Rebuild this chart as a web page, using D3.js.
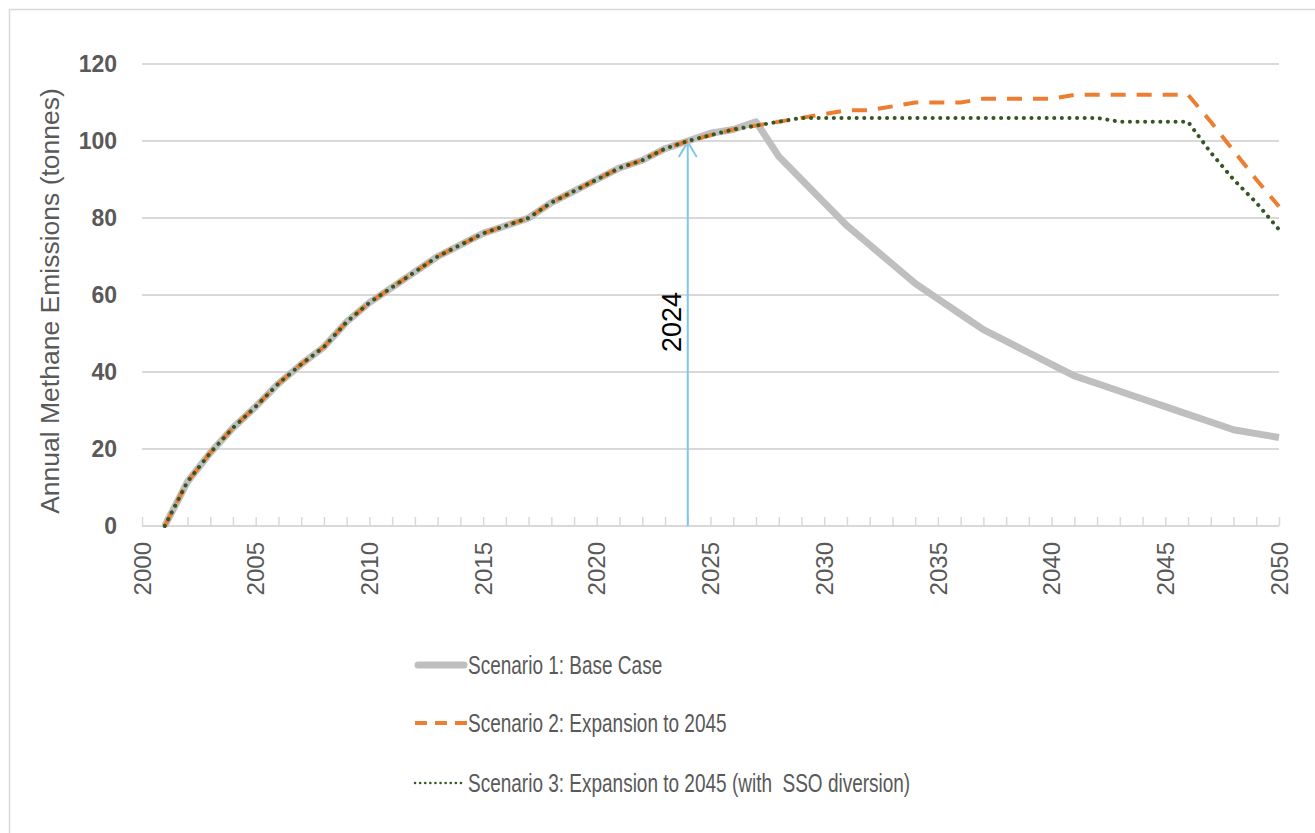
<!DOCTYPE html>
<html>
<head>
<meta charset="utf-8">
<script src="https://cdnjs.cloudflare.com/ajax/libs/d3/7.8.5/d3.min.js"></script>
<style>
  html, body { margin: 0; padding: 0; background: #fff; }
  svg text { font-family: "Liberation Sans", Arial, sans-serif; fill: #595959; }
</style>
</head>
<body>
<div id="chart"></div>
<script>
/*
  annual methane emissions by scenario
*/

// years on the x axis, 2001 - 2050
var years = d3.range(2001, 2051);

// Scenario 1: base case
var baseCase = [
  0, 11.5, 19, 25.5, 31, 37, 42, 46.5, 53, 58,
  62, 66, 70, 73, 76, 78, 80, 84, 87, 90,
  93, 95, 98, 100, 102, 103, 105, 96, 90, 84,
  78, 73, 68, 63, 59, 55, 51, 48, 45, 42,
  39, 37, 35, 33, 31, 29, 27, 25, 24, 23
];

// Scenario 2: expansion to 2045
var expansion = [
  0, 11.5, 19, 25.5, 31, 37, 42, 46.5, 53, 58,
  62, 66, 70, 73, 76, 78, 80, 84, 87, 90,
  93, 95, 98, 100, 101.5, 103, 104, 105, 106, 107,
  108, 108, 109, 110, 110, 110, 111, 111, 111, 111,
  112, 112, 112, 112, 112, 112, 105, 97.5, 90, 83
];

// Scenario 3: expansion to 2045 with SSO diversion
var expansionSSO = [
  0, 11.5, 19, 25.5, 31, 37, 42, 46.5, 53, 58,
  62, 66, 70, 73, 76, 78, 80, 84, 87, 90,
  93, 95, 98, 100, 101.5, 103, 104, 105, 106, 106,
  106, 106, 106, 106, 106, 106, 106, 106, 106, 106,
  106, 106, 105, 105, 105, 105, 97, 90, 84, 77
];

var xTicks = d3.range(2000, 2051, 5);
var yTicks = [0, 20, 40, 60, 80, 100, 120];

var seriesNames = [
  "Scenario 1: Base Case",
  "Scenario 2: Expansion to 2045",
  "Scenario 3: Expansion to 2045 (with  SSO diversion)"
];

var markerYear = 2024;

var width = 1315, height = 833;

var svg = d3.select("#chart").append("svg")
  .attr("width", width)
  .attr("height", height);

// outer frame
svg.append("rect")
  .attr("x", 9.5).attr("y", 9.5)
  .attr("width", width + 20).attr("height", height + 20)
  .style("fill", "none")
  .style("stroke", "#d9d9d9")
  .style("stroke-width", 1.5);

var x = d3.scaleLinear().domain([2000, 2050]).range([142, 1279]);
var y = d3.scaleLinear().domain([0, 120]).range([526, 64]);

// horizontal gridlines
svg.append("g").selectAll("line")
  .data(yTicks.filter(function(d) { return d > 0; }))
  .enter().append("line")
    .attr("x1", x(2000)).attr("x2", x(2050))
    .attr("y1", function(d) { return y(d); })
    .attr("y2", function(d) { return y(d); })
    .style("stroke", "#d9d9d9")
    .style("stroke-width", 2);

// y axis labels
var yAxis = svg.append("g")
  .attr("transform", "translate(" + x(2000) + ",0)")
  .call(d3.axisLeft(y).tickValues(yTicks).tickSize(0).tickPadding(25));
yAxis.select(".domain").remove();
yAxis.selectAll("text")
  .style("font-size", "23px")
  .style("font-weight", "bold")
  .style("font-family", "'Liberation Sans', Arial, sans-serif")
  .style("fill", "#595959");

// x axis: a tick every year pointing up, labels every 5 years
var xAxis = svg.append("g")
  .attr("transform", "translate(0," + y(0) + ")")
  .call(d3.axisTop(x).tickValues(d3.range(2000, 2051)).tickSize(9).tickFormat(""));
xAxis.select(".domain").style("stroke", "#d9d9d9").style("stroke-width", 2)
  .attr("d", "M" + x(2000) + ",0H" + x(2050));
xAxis.selectAll(".tick line").style("stroke", "#d9d9d9").style("stroke-width", 1.5);

svg.append("g").selectAll("text")
  .data(xTicks)
  .enter().append("text")
    .attr("transform", function(d) {
      return "translate(" + x(d) + "," + (y(0) + 16) + ") rotate(-90)";
    })
    .attr("dy", "0.36em")
    .attr("text-anchor", "end")
    .style("font-size", "24px")
    .text(function(d) { return d; });

// y axis title
svg.append("text")
  .attr("transform", "translate(59," + ((y(0) + y(120)) / 2 + 6) + ") rotate(-90)")
  .attr("text-anchor", "middle")
  .style("font-size", "26.5px")
  .text("Annual Methane Emissions (tonnes)");

// 2024 marker arrow
var markerValue = baseCase[years.indexOf(markerYear)];
var arrowColor = "#7dc8ea";
svg.append("line")
  .attr("x1", x(markerYear)).attr("x2", x(markerYear))
  .attr("y1", y(0)).attr("y2", y(markerValue))
  .style("stroke", arrowColor)
  .style("stroke-width", 2);
svg.append("path")
  .attr("d", "M" + (x(markerYear) - 9) + "," + (y(markerValue) + 16) +
             "L" + x(markerYear) + "," + (y(markerValue) + 1) +
             "L" + (x(markerYear) + 9) + "," + (y(markerValue) + 16))
  .style("fill", "none")
  .style("stroke", arrowColor)
  .style("stroke-width", 2);
svg.append("text")
  .attr("transform", "translate(" + (x(markerYear) - 7) + "," + y(53) + ") rotate(-90)")
  .attr("text-anchor", "middle")
  .style("font-size", "27px")
  .style("fill", "#000")
  .text(markerYear);

// series lines
var lineGen = d3.line()
  .x(function(d, i) { return x(years[i]); })
  .y(function(d) { return y(d); });

var styles = [
  { stroke: "#bfbfbf", width: 7, dash: null, cap: "butt" },
  { stroke: "#ed7d31", width: 4, dash: "15,11", cap: "butt" },
  { stroke: "#375623", width: 4, dash: "0.1,7.5", cap: "round" }
];

[baseCase, expansion, expansionSSO].forEach(function(series, i) {
  svg.append("path")
    .datum(series)
    .attr("d", lineGen)
    .style("fill", "none")
    .style("stroke", styles[i].stroke)
    .style("stroke-width", styles[i].width)
    .style("stroke-dasharray", styles[i].dash)
    .style("stroke-linecap", styles[i].cap)
    .style("stroke-linejoin", "round");
});

// legend
var legendY = [665, 723, 783];
var legend = svg.append("g").selectAll("g")
  .data(seriesNames)
  .enter().append("g")
    .attr("transform", function(d, i) { return "translate(415," + legendY[i] + ")"; });

legend.append("line")
  .attr("x1", function(d, i) { return i === 0 ? 3 : 0; })
  .attr("x2", function(d, i) { return i === 2 ? 47 : (i === 0 ? 49 : 52); })
  .attr("y1", 0).attr("y2", 0)
  .style("stroke", function(d, i) { return styles[i].stroke; })
  .style("stroke-width", function(d, i) { return i === 0 ? 7 : (i === 1 ? 4 : 2.5); })
  .style("stroke-dasharray", function(d, i) { return i === 1 ? "12,8" : (i === 2 ? "0.1,5" : null); })
  .style("stroke-linecap", function(d, i) { return i === 1 ? "butt" : "round"; });

legend.append("text")
  .attr("transform", "translate(53,0) scale(0.76,1)")
  .attr("dy", "0.35em")
  .style("font-size", "25px")
  .style("white-space", "pre")
  .text(function(d) { return d; });
</script>
</body>
</html>
